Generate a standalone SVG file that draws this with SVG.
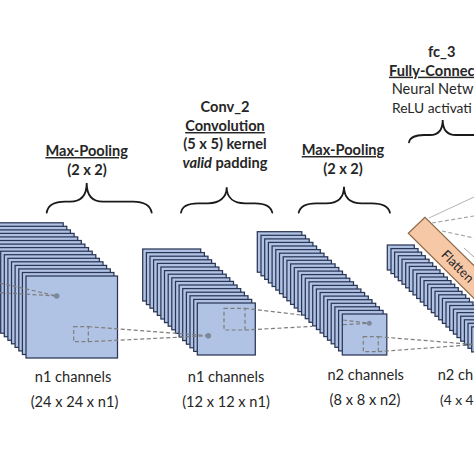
<svg xmlns="http://www.w3.org/2000/svg" width="474" height="474" viewBox="0 0 474 474">
<style>
text{font-family:"Lato","Carlito","Liberation Sans",sans-serif;fill:#262626;font-size:14.6px}
.c{text-anchor:middle}
.b{font-weight:700}
.u{text-decoration:underline}
.s rect{fill:#b1c3e4;stroke:#2a3656;stroke-width:1.25}
.d{fill:none;stroke:#7d7d7d;stroke-width:1.2;stroke-dasharray:4 2.5}
.t{fill:#7e8a9c}
.br{fill:none;stroke:#1a1a1a;stroke-width:1.8;stroke-linecap:round}
</style>
<rect width="474" height="474" fill="#fff"/>
<g id="stack-1" class="s">
<rect x="-28.3" y="222.8" width="91.5" height="82"/><rect x="-24.7" y="226.3" width="91.5" height="82"/><rect x="-21.1" y="229.9" width="91.5" height="82"/><rect x="-17.4" y="233.4" width="91.5" height="82"/><rect x="-13.8" y="236.9" width="91.5" height="82"/><rect x="-10.2" y="240.5" width="91.5" height="82"/><rect x="-6.6" y="244.1" width="91.5" height="82"/><rect x="-3" y="247.6" width="91.5" height="82"/><rect x=".7" y="251.2" width="91.5" height="82"/><rect x="4.3" y="254.7" width="91.5" height="82"/><rect x="7.9" y="258.3" width="91.5" height="82"/><rect x="11.5" y="261.8" width="91.5" height="82"/><rect x="15.1" y="265.4" width="91.5" height="82"/><rect x="18.8" y="268.9" width="91.5" height="82"/><rect x="22.4" y="272.5" width="91.5" height="82"/><rect x="26" y="276" width="91.5" height="82"/>
</g>
<g id="stack-2" class="s">
<rect x="142.7" y="249" width="58" height="52"/><rect x="146.4" y="252.6" width="58" height="52"/><rect x="150" y="256.2" width="58" height="52"/><rect x="153.6" y="259.8" width="58" height="52"/><rect x="157.3" y="263.4" width="58" height="52"/><rect x="160.9" y="267" width="58" height="52"/><rect x="164.5" y="270.6" width="58" height="52"/><rect x="168.2" y="274.2" width="58" height="52"/><rect x="171.8" y="277.8" width="58" height="52"/><rect x="175.5" y="281.4" width="58" height="52"/><rect x="179.1" y="285" width="58" height="52"/><rect x="182.7" y="288.6" width="58" height="52"/><rect x="186.4" y="292.2" width="58" height="52"/><rect x="190" y="295.8" width="58" height="52"/><rect x="193.7" y="299.4" width="58" height="52"/><rect x="197.3" y="303" width="58" height="52"/>
</g>
<g id="stack-3" class="s">
<rect x="257.3" y="231.7" width="44.5" height="40.5"/><rect x="261" y="235.3" width="44.5" height="40.5"/><rect x="264.7" y="238.9" width="44.5" height="40.5"/><rect x="268.4" y="242.4" width="44.5" height="40.5"/><rect x="272.1" y="246" width="44.5" height="40.5"/><rect x="275.8" y="249.6" width="44.5" height="40.5"/><rect x="279.5" y="253.2" width="44.5" height="40.5"/><rect x="283.2" y="256.8" width="44.5" height="40.5"/><rect x="286.9" y="260.3" width="44.5" height="40.5"/><rect x="290.6" y="263.9" width="44.5" height="40.5"/><rect x="294.3" y="267.5" width="44.5" height="40.5"/><rect x="298" y="271.1" width="44.5" height="40.5"/><rect x="301.6" y="274.6" width="44.5" height="40.5"/><rect x="305.3" y="278.2" width="44.5" height="40.5"/><rect x="309" y="281.8" width="44.5" height="40.5"/><rect x="312.7" y="285.4" width="44.5" height="40.5"/><rect x="316.4" y="289" width="44.5" height="40.5"/><rect x="320.1" y="292.5" width="44.5" height="40.5"/><rect x="323.8" y="296.1" width="44.5" height="40.5"/><rect x="327.5" y="299.7" width="44.5" height="40.5"/><rect x="331.2" y="303.3" width="44.5" height="40.5"/><rect x="334.9" y="306.8" width="44.5" height="40.5"/><rect x="338.6" y="310.4" width="44.5" height="40.5"/><rect x="342.3" y="314" width="44.5" height="41"/>
</g>
<g id="stack-4" class="s">
<rect x="387.3" y="245" width="27" height="25"/><rect x="391" y="248.6" width="27" height="25"/><rect x="394.6" y="252.1" width="27" height="25"/><rect x="398.3" y="255.7" width="27" height="25"/><rect x="402" y="259.2" width="27" height="25"/><rect x="405.7" y="262.8" width="27" height="25"/><rect x="409.3" y="266.4" width="27" height="25"/><rect x="413" y="269.9" width="27" height="25"/><rect x="416.7" y="273.5" width="27" height="25"/><rect x="420.3" y="277" width="27" height="25"/><rect x="424" y="280.6" width="27" height="25"/><rect x="427.7" y="284.2" width="27" height="25"/><rect x="431.3" y="287.7" width="27" height="25"/><rect x="435" y="291.3" width="27" height="25"/><rect x="438.7" y="294.8" width="27" height="25"/><rect x="442.4" y="298.4" width="27" height="25"/><rect x="446" y="302" width="27" height="25"/><rect x="449.7" y="305.5" width="27" height="25"/><rect x="453.4" y="309.1" width="27" height="25"/><rect x="457" y="312.6" width="27" height="25"/><rect x="460.7" y="316.2" width="27" height="25"/><rect x="464.4" y="319.8" width="27" height="25"/><rect x="468" y="323.3" width="27" height="25"/><rect x="471.7" y="326.9" width="27" height="25"/>
</g>
<g id="flatten">
<polygon points="425,217.3 408.3,233.3 500,324 517,308" fill="#f6c8a6" stroke="#8c6a4a" stroke-width="1.2"/>
<text transform="translate(440.5 255.5) rotate(45)" style="font-size:13px">Flatten</text>
</g>
<g id="connectors">
<line class="d" x1="0" y1="283" x2="56.7" y2="296"/>
<line class="d" x1="0" y1="292.7" x2="56.7" y2="296"/>
<rect class="d" x="73.7" y="326.7" width="14.6" height="15"/>
<line class="d" x1="88.3" y1="326.7" x2="208.3" y2="335.7"/>
<line class="d" x1="88.3" y1="341.7" x2="208.3" y2="335.7"/>
<rect class="d" x="224" y="308.3" width="21" height="21.7"/>
<line class="d" x1="245" y1="308.3" x2="304" y2="315.4"/>
<line class="d" x1="245" y1="330" x2="312" y2="326.4"/>
<line class="d" x1="343" y1="320" x2="369.3" y2="323.3"/>
<line class="d" x1="343" y1="324.7" x2="369.3" y2="323.3"/>
<rect class="d" x="363.3" y="336.7" width="15" height="15"/>
<line class="d" x1="378.3" y1="336.7" x2="474" y2="344.5"/>
<line class="d" x1="378.3" y1="351.7" x2="474" y2="344.5"/>
<line x1="429" y1="218" x2="474" y2="197" stroke="#b5b5b5" stroke-width="1"/>
<line class="d" x1="432" y1="223" x2="474" y2="216" style="stroke:#a5a5a5"/>
<line class="d" x1="442" y1="231" x2="474" y2="238" style="stroke:#a5a5a5"/>
<line x1="464" y1="248" x2="474" y2="257" stroke="#a5a5a5" stroke-width="1"/>
</g>
<g id="dots">
<circle class="t" cx="56.7" cy="296" r="2.8"/>
<circle class="t" cx="208.3" cy="335.7" r="2.8"/>
<circle class="t" cx="369.3" cy="323.3" r="2.5"/>
</g>
<g id="brace-1"><path class="br" d="M46.7 212.7C48 204 56 201.7 65 201.7H70C80 201.7 86.7 196 86.7 183C86.7 196 93 201.7 103 201.7H133C143 201.7 150 204 151.7 212.7"/></g>
<g id="brace-2"><path class="br" d="M181 212.7C182 206 189 203.3 198 203.3H208C219 203.3 226.7 198 226.7 187.3C226.7 198 234 203.3 245 203.3H255C264 203.3 271 206 272.3 212.7"/></g>
<g id="brace-3"><path class="br" d="M298.7 212.7C300 206 307 203.3 316 203.3H326C337 203.3 344 198 344 186.7C344 198 351 203.3 362 203.3H372C381 203.3 388.5 206 390 212.7"/></g>
<g id="brace-4"><path class="br" d="M409 142.3C410 137 416 135 424 135H430C437 135 442.7 131 442.7 120C442.7 131 448 135 456 135H480"/></g>
<g id="label-maxpool-1"><text class="c b u" x="86.7" y="156">Max-Pooling</text><text class="c b" x="87" y="175">(2 x 2)</text></g>
<g id="label-conv2"><text class="c b" x="225" y="112">Conv_2</text><text class="c b u" x="225" y="131">Convolution</text><text class="c b" x="225" y="149">(5 x 5) kernel</text><text class="c b" x="225" y="168"><tspan font-style="italic">valid</tspan> padding</text></g>
<g id="label-maxpool-2"><text class="c b u" x="343" y="155">Max-Pooling</text><text class="c b" x="343" y="174">(2 x 2)</text></g>
<g id="label-fc3"><text class="c b" x="441.7" y="56.7">fc_3</text><text class="b u" x="389" y="75.7">Fully-Connec</text><text x="391.7" y="94">Neural Netw</text><text x="392" y="113" style="font-size:13.8px">ReLU activati</text></g>
<g id="label-n1-24"><text class="c" x="73" y="382">n1 channels</text><text class="c" x="74.5" y="407">(24 x 24 x n1)</text></g>
<g id="label-n1-12"><text class="c" x="226" y="382">n1 channels</text><text class="c" x="226" y="407">(12 x 12 x n1)</text></g>
<g id="label-n2-8"><text class="c" x="365.7" y="380">n2 channels</text><text class="c" x="365" y="405">(8 x 8 x n2)</text></g>
<g id="label-n2-4"><text x="437.7" y="380">n2 ch</text><text x="440" y="405" style="font-size:13.8px">(4 x 4</text></g>
</svg>
